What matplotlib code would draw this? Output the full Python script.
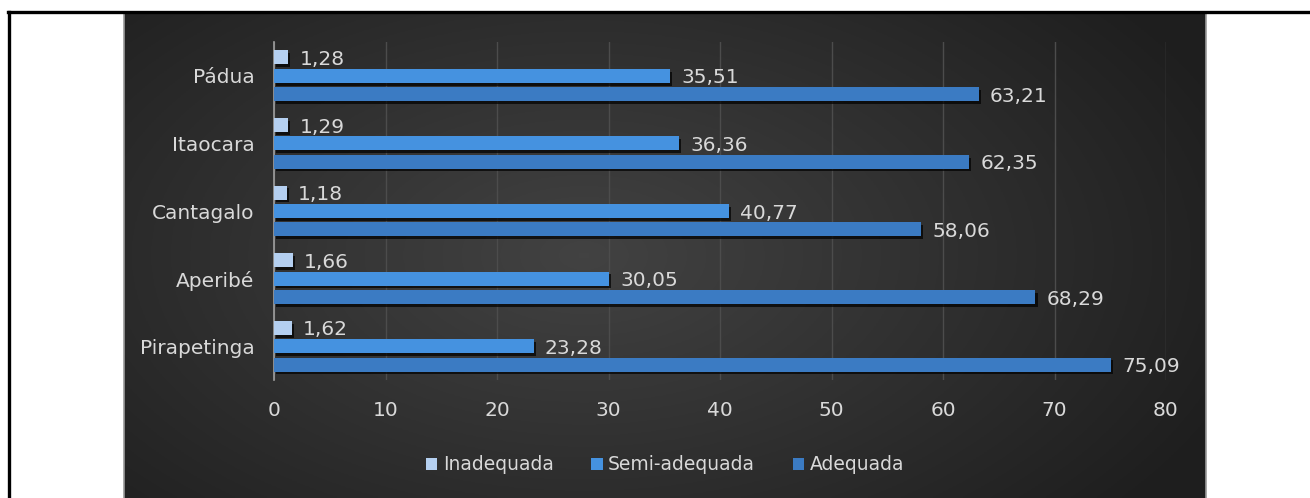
import numpy as np
import matplotlib
matplotlib.use("Agg")
import matplotlib.pyplot as plt
from matplotlib.patches import Patch
from matplotlib.lines import Line2D
import matplotlib.patheffects as pe

cities = ["Pirapetinga", "Aperibé", "Cantagalo", "Itaocara", "Pádua"]
inadequada = [1.62, 1.66, 1.18, 1.29, 1.28]
semi_adequada = [23.28, 30.05, 40.77, 36.36, 35.51]
adequada = [75.09, 68.29, 58.06, 62.35, 63.21]
x_ticks = [0, 10, 20, 30, 40, 50, 60, 70, 80]

W, H = 1310, 498
fig = plt.figure(figsize=(W / 100, H / 100), dpi=100, facecolor="white")

# dark panel with a soft radial gradient
bg = fig.add_axes([124 / W, 0, (1206 - 124) / W, 1 - 14 / H])
gx, gy = np.meshgrid(np.linspace(-1, 1, 400), np.linspace(-1, 1, 200))
r = np.sqrt(((gx + 0.15) / 1.1) ** 2 + (gy / 1.4) ** 2)
shade = np.clip(0.26 - 0.12 * r, 0.12, 0.3)
bg.imshow(np.dstack([shade, shade, shade]), aspect="auto", extent=[0, 1, 0, 1])
bg.set_xticks([])
bg.set_yticks([])
for s in bg.spines.values():
    s.set_color("#9a9a9a")
    s.set_linewidth(1.2)
bg.spines["top"].set_visible(False)
bg.spines["bottom"].set_visible(False)

# outer border of the picture
fig.add_artist(Line2D([8 / W, 1], [1 - 12 / H, 1 - 12 / H], color="black", lw=2.4,
                      transform=fig.transFigure))
fig.add_artist(Line2D([9 / W, 9 / W], [0, 1 - 12 / H], color="black", lw=2.4,
                      transform=fig.transFigure))

ax = fig.add_axes([274 / W, 1 - 380 / H, (1166 - 274) / W, (380 - 42) / H])
ax.patch.set_alpha(0)

txt = "#d9d9d9"
y = np.arange(len(cities))
step = 0.272
h = 0.205
shadow = [pe.SimplePatchShadow(offset=(1.5, -2), shadow_rgbFace="black", alpha=0.7), pe.Normal()]

series = [
    ("Inadequada", inadequada, "#b4cff0", step),
    ("Semi-adequada", semi_adequada, "#4592e0", 0),
    ("Adequada", adequada, "#3b7bc3", -step),
]
for name, vals, col, off in series:
    bars = ax.barh(y + off, vals, height=h, color=col, zorder=3)
    for b in bars:
        b.set_path_effects(shadow)
    for yy, v in zip(y + off, vals):
        ax.text(v + 1.0, yy - 0.03, f"{v:.2f}".replace(".", ","), color=txt,
                fontsize=14.5, va="center", ha="left", zorder=4)

ax.set_xlim(0, 80)
ax.set_ylim(-0.5, 4.5)
ax.set_xticks(x_ticks)
ax.set_xticklabels([str(t) for t in x_ticks])
ax.set_yticks(y)
ax.set_yticklabels(cities)
ax.tick_params(axis="both", colors=txt, labelsize=14.5, length=0)
ax.tick_params(axis="x", pad=15)
ax.tick_params(axis="y", pad=14)
ax.grid(axis="x", color="#4c4c4c", lw=1, zorder=0)
for s in ["top", "right", "bottom"]:
    ax.spines[s].set_visible(False)
ax.spines["left"].set_color("#a0a0a0")
ax.spines["left"].set_linewidth(1.2)

handles = [Patch(facecolor=c, label=n) for n, _, c, _ in series]
fig.legend(handles=handles, loc="center", bbox_to_anchor=(665 / W, 1 - 465 / H), ncol=3,
           frameon=False, fontsize=13.5, labelcolor=txt, handlelength=0.6, handleheight=0.6,
           handletextpad=0.3, columnspacing=2.0)

fig.savefig("out.png", dpi=100, facecolor="white")
